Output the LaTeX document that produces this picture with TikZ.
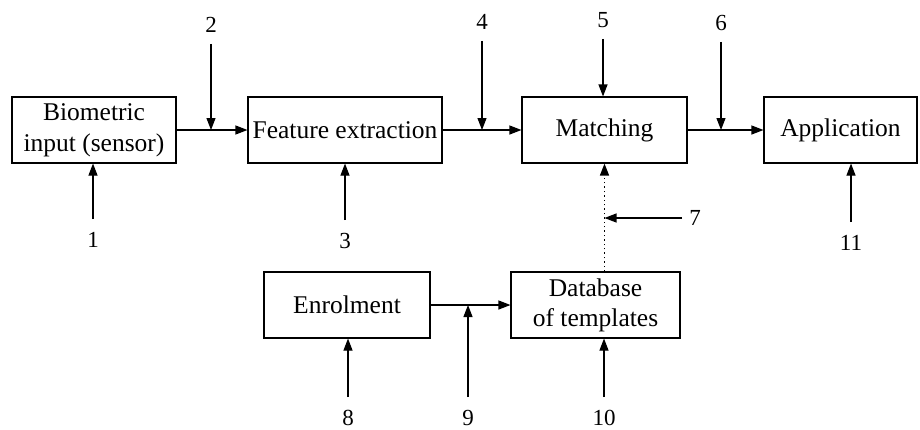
\documentclass[tikz,border=0pt]{standalone}
\usepackage{fontspec}
\setmainfont{Liberation Serif}
\usetikzlibrary{arrows.meta, positioning}

\begin{document}
\begin{tikzpicture}[x=1pt, y=-1pt,
    blk/.style={draw, line width=1.1pt, minimum height=66pt, inner sep=1pt, align=center, font=\fontsize{25.5}{30}\selectfont},
    num/.style={inner sep=1pt, font=\fontsize{23}{27}\selectfont},
    arr/.style={-{Triangle[length=12pt, width=9pt]}, line width=1.1pt}]
                \useasboundingbox (0,0) rectangle (920,429);

                \node [blk, minimum width=164pt] (bio) at (94,130) {Biometric\\[1pt]input (sensor)};
                \node [blk, minimum width=194pt] (feat) at (345,130) {Feature extraction};
                \node [blk, minimum width=165pt] (match) at (604.5,130) {Matching};
                \node [blk, minimum width=153pt] (app) at (840.5,130) {Application};
                \node [blk, minimum width=166pt] (enrol) at (347,305) {Enrolment};
                \node [blk, minimum width=169pt] (db) at (595.5,305) {Database\\of templates};

                \node [num] (n1) at (93,240) {1};
                \node [num] (n2) at (211,25) {2};
                \node [num] (n3) at (345,241) {3};
                \node [num] (n4) at (482,22) {4};
                \node [num] (n5) at (603,20) {5};
                \node [num] (n6) at (721,23) {6};
                \node [num] (n7) at (695,218) {7};
                \node [num] (n8) at (348,418) {8};
                \node [num] (n9) at (468,418) {9};
                \node [num] (n10) at (604,418) {10};
                \node [num] (n11) at (851,243) {11};

                \draw [arr] (bio) -- (feat);
                \draw [arr] (feat) -- (match);
                \draw [arr] (match) -- (app);
                \draw [arr] (enrol) -- (db);
                \draw [arr, line width=1.4pt, dash pattern=on 1.4pt off 3pt] (match.south |- db.north) -- (match.south);

                \foreach \n/\b in {n2/bio.east, n4/feat.east, n5/match.north, n6/match.east}
                  \draw [arr, shorten <=10pt] (\n) -- (\n |- \b);
                \foreach \n/\b in {n1/bio.south, n3/feat.south, n11/app.south, n8/enrol.south, n9/enrol.east, n10/db.south}
                  \draw [arr, shorten <=12pt] (\n) -- (\n |- \b);
                \draw [arr, shorten <=6pt] (n7) -- (n7 -| match.south);
            \end{tikzpicture}
\end{document}
